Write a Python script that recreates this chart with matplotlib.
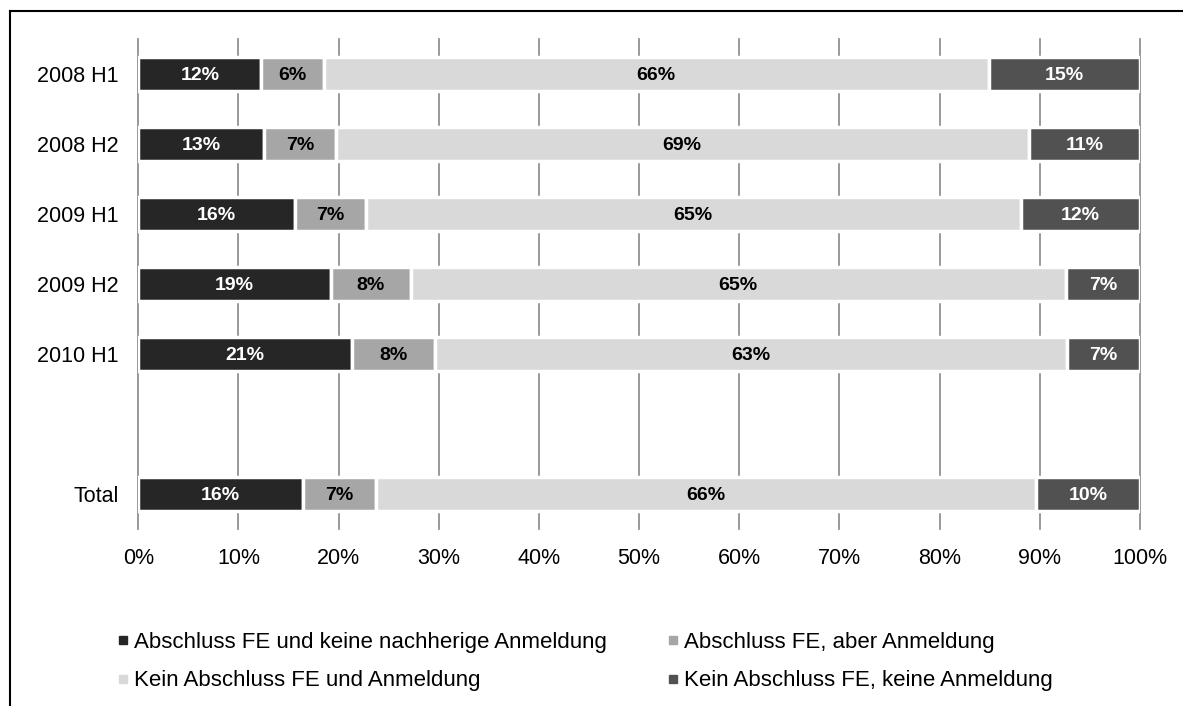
import numpy as np
import matplotlib.pyplot as plt
from matplotlib.lines import Line2D

plt.rcParams['font.family'] = ['Liberation Sans', 'DejaVu Sans']

categories = ["2008 H1", "2008 H2", "2009 H1", "2009 H2", "2010 H1", "Total"]
abschluss_keine = [12.3, 12.6, 15.6, 19.2, 21.3, 16.4]
abschluss_aber = [6.2, 7.1, 7.1, 8.0, 8.3, 7.3]
kein_und = [66.4, 69.2, 65.4, 65.4, 63.1, 65.9]
kein_keine = [15.1, 11.1, 11.9, 7.4, 7.3, 10.4]
series = [abschluss_keine, abschluss_aber, kein_und, kein_keine]
series_names = ["Abschluss FE und keine nachherige Anmeldung",
                "Abschluss FE, aber Anmeldung",
                "Kein Abschluss FE und Anmeldung",
                "Kein Abschluss FE, keine Anmeldung"]
colors = ["#262626", "#a6a6a6", "#d9d9d9", "#515151"]
text_colors = ["white", "black", "black", "white"]

W, H = 1183, 706
fig = plt.figure(figsize=(W/100, H/100), dpi=100)
ax = fig.add_axes([138.25/W, 1-529/H, (1140-138.25)/W, (529-39)/H])

# one empty slot before the Total bar
ypos = np.arange(len(categories), dtype=float)
ypos[-1] += 1

left = np.zeros(len(categories))
handles = []
for vals, name, c, tc in zip(series, series_names, colors, text_colors):
    vals = np.array(vals)
    ax.barh(ypos, vals, left=left, height=0.49, color=c, edgecolor='white',
            linewidth=2.5, zorder=2)
    for y, l, v in zip(ypos, left, vals):
        ax.text(l + v/2, y + 0.025, f"{round(v)}%", ha='center', va='center',
                color=tc, fontsize=14, fontweight='bold', zorder=3)
    left += vals
    handles.append(Line2D([], [], marker='s', ls='none', color=c, markersize=5.5))

ax.set_xlim(0, 100)
ax.set_ylim(ypos[-1] + 0.5, -0.5)
ticks = np.arange(0, 101, 10)
ax.set_xticks(ticks)
ax.set_xticklabels([f"{t}%" for t in ticks])
ax.set_yticks(ypos)
ax.set_yticklabels(categories)
ax.tick_params(length=0, labelsize=15.5, colors='black')
ax.tick_params(axis='x', pad=14)
ax.tick_params(axis='y', pad=14)
ax.grid(axis='x', color='#878787', lw=1.2)
ax.grid(axis='y', visible=False)
ax.set_axisbelow(True)
for gl in ax.get_xgridlines():
    gl.set_clip_on(False)
for s in ax.spines.values():
    s.set_visible(False)

order = [0, 2, 1, 3]
fig.legend([handles[i] for i in order], [series_names[i] for i in order],
           ncol=2, loc='upper left', bbox_to_anchor=(106.5/W, 1-621/H),
           frameon=False, fontsize=16, handlelength=0.5, handletextpad=0.22,
           columnspacing=2.75, labelspacing=0.78, borderpad=0)

# outer frame (left and top only)
fig.add_artist(Line2D([10/W, 10/W], [0, 1-11/H], transform=fig.transFigure,
                      color='black', lw=1.5))
fig.add_artist(Line2D([10/W, 1], [1-11/H, 1-11/H], transform=fig.transFigure,
                      color='black', lw=1.5))

fig.savefig("out.png", dpi=100)
